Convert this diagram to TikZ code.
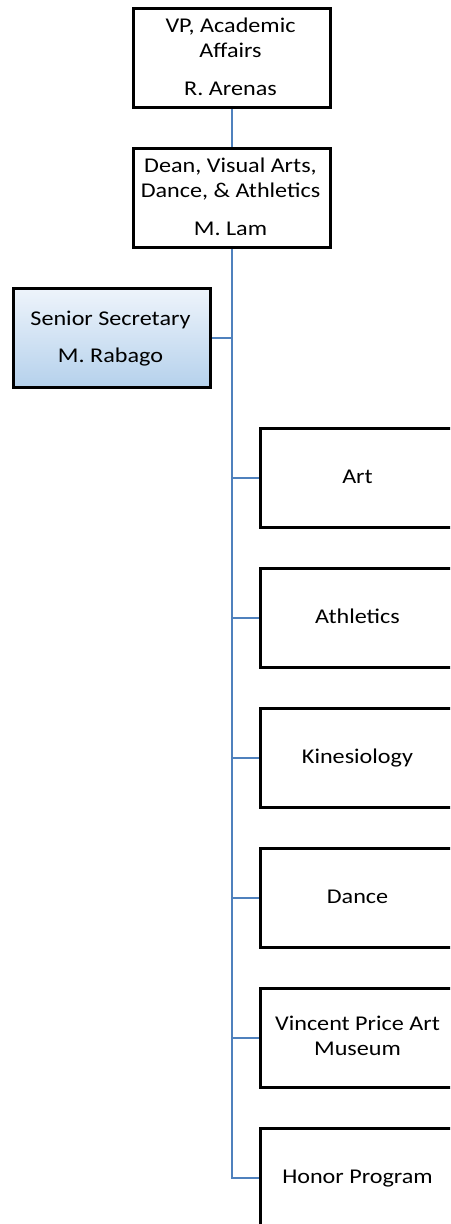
\documentclass[tikz,border=0pt]{standalone}
\usepackage{fontspec}
\setmainfont{Carlito}[FakeStretch=1.15]
\usetikzlibrary{backgrounds}
\definecolor{linkblue}{HTML}{4F81BD}
\definecolor{gradtop}{HTML}{EEF4FB}
\definecolor{gradbot}{HTML}{B5D1EC}
\tikzset{
  box/.style={draw=black, line width=2.6pt, fill=white, minimum width=197pt, minimum height=99pt, inner sep=0pt, anchor=north west},
  secbox/.style={box, fill=none, top color=gradtop, bottom color=gradbot},
  txt/.style={anchor=base, inner sep=0pt, font=\fontsize{21}{25}\selectfont},
  link/.style={draw=linkblue, line width=2.2pt}
}
\begin{document}
\begin{tikzpicture}[x=1pt,y=-1pt]
\useasboundingbox (0,0) rectangle (450,1224);
\clip (0,0) rectangle (450,1224);
% boxes
\node[box] (vp) at (132,7) {};
\node[box] (dean) at (132,147) {};
\node[secbox] (sec) at (12,287) {};
\node[box] (art) at (259,427) {};
\node[box] (ath) at (259,567) {};
\node[box] (kin) at (259,707) {};
\node[box] (dance) at (259,847) {};
\node[box] (vpam) at (259,987) {};
\node[box] (honor) at (259,1127) {};
% texts
\node[txt] (vp1) at (230.5,32) {VP, Academic};
\node[txt] (vp2) at (230.5,57) {Affairs};
\node[txt] (vp3) at (230.5,95) {R. Arenas};
\node[txt] (dean1) at (230.5,172) {Dean, Visual Arts,};
\node[txt] (dean2) at (230.5,197) {Dance, \& Athletics};
\node[txt] (dean3) at (230.5,235) {M. Lam};
\node[txt] (sec1) at (110.5,325) {Senior Secretary};
\node[txt] (sec2) at (110.5,362) {M. Rabago};
\node[txt] (art1) at (357.5,483.5) {Art};
\node[txt] (ath1) at (357.5,623.5) {Athletics};
\node[txt] (kin1) at (357.5,763.5) {Kinesiology};
\node[txt] (dance1) at (357.5,903.5) {Dance};
\node[txt] (vpam1) at (357.5,1030) {Vincent Price Art};
\node[txt] (vpam2) at (357.5,1055) {Museum};
\node[txt] (honor1) at (357.5,1183) {Honor Program};
% connectors
\begin{scope}[on background layer]
\draw[link] (vp.south) |- (honor.west);
\draw[link] (sec.east) -- (sec.east -| vp.south);
\foreach \n in {art,ath,kin,dance,vpam}
  \draw[link] (\n.west) -- (\n.west -| vp.south);
\end{scope}
\end{tikzpicture}
\end{document}
